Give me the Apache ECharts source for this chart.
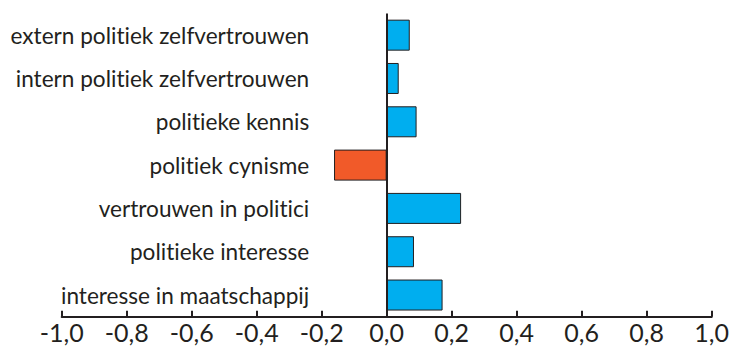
<!DOCTYPE html>
<html>
<head>
<meta charset="utf-8">
<script src="https://cdn.jsdelivr.net/npm/echarts@6/dist/echarts.min.js"></script>
<style>
html,body{margin:0;padding:0;background:#fff;}
#chart{width:732px;height:346px;}
#chart text{font-variant-ligatures:none;font-feature-settings:"liga" 0, "clig" 0;}
</style>
</head>
<body>
<div id="chart"></div>
<script>
var categories = [
  'extern politiek zelfvertrouwen',
  'intern politiek zelfvertrouwen',
  'politieke kennis',
  'politiek cynisme',
  'vertrouwen in politici',
  'politieke interesse',
  'interesse in maatschappij'
];
var values = [0.071, 0.037, 0.092, -0.162, 0.229, 0.084, 0.172];
var tickValues = [-1.0, -0.8, -0.6, -0.4, -0.2, 0.0, 0.2, 0.4, 0.6, 0.8, 1.0];
var tickLabels = ['-1,0', '-0,8', '-0,6', '-0,4', '-0,2', '0,0', '0,2', '0,4', '0,6', '0,8', '1,0'];

var BLUE = '#00AEEF';
var ORANGE = '#F15A29';
var INK = '#231F20';
var FONT = 'Lato';

var chart = echarts.init(document.getElementById('chart'), null, {renderer: 'svg'});
chart.setOption({
  animation: false,
  backgroundColor: '#fff',
  grid: {left: 61.7, right: 19.3, top: 13.5, bottom: 29.3, containLabel: false},
  xAxis: {
    type: 'value',
    min: -1, max: 1, interval: 0.2,
    axisLine: {show: true, onZero: false, lineStyle: {color: INK, width: 2}},
    axisTick: {show: true, inside: true, length: 6, lineStyle: {color: INK, width: 2}},
    splitLine: {show: false},
    axisLabel: {
      color: INK, fontFamily: FONT, fontSize: 25, lineHeight: 18, margin: 6.5,
      formatter: function (v) {
        for (var i = 0; i < tickValues.length; i++) {
          if (Math.abs(tickValues[i] - v) < 1e-6) return tickLabels[i];
        }
        return '';
      }
    }
  },
  yAxis: {
    type: 'category',
    inverse: true,
    data: categories,
    axisLine: {show: false, onZero: false},
    axisTick: {show: false},
    axisLabel: {color: INK, fontFamily: FONT, fontSize: 22.6, margin: -247.5, align: 'right'}
  },
  series: [{
    type: 'bar',
    barWidth: 31,
    data: values.map(function (v) {
      return {value: v, itemStyle: {color: v < 0 ? ORANGE : BLUE}};
    }),
    itemStyle: {borderColor: INK, borderWidth: 1},
    markLine: {
      silent: true,
      symbol: 'none',
      label: {show: false},
      lineStyle: {color: INK, width: 2, type: 'solid'},
      data: [{xAxis: 0}]
    }
  }]
});
</script>
</body>
</html>
